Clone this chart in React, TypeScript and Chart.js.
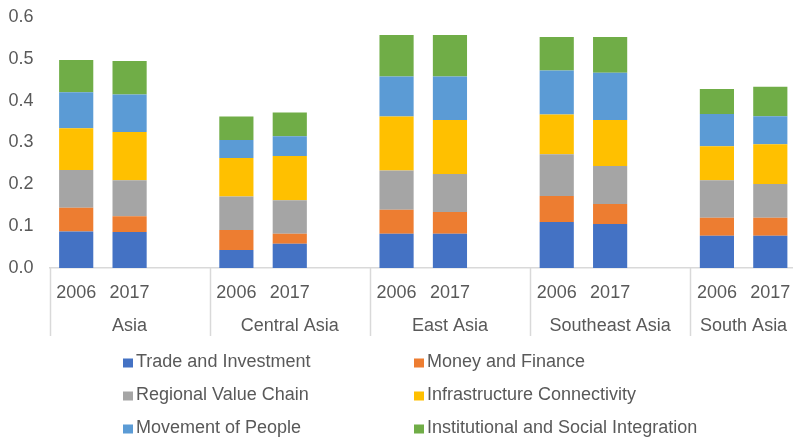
import React, { useEffect, useRef } from 'react';
import { Chart, registerables } from 'chart.js';

Chart.register(...registerables);

// ---- data ----
const regions = ['Asia', 'Central Asia', 'East Asia', 'Southeast Asia', 'South Asia'];
const years = ['2006', '2017'];
const seriesNames = [
  'Trade and Investment',
  'Money and Finance',
  'Regional Value Chain',
  'Infrastructure Connectivity',
  'Movement of People',
  'Institutional and Social Integration',
];
const seriesColors = ['#4472C4', '#ED7D31', '#A5A5A5', '#FFC000', '#5B9BD5', '#70AD47'];

// order: Asia 2006, Asia 2017, Central Asia 2006, 2017, East Asia..., Southeast Asia..., South Asia...
const trade = [0.087, 0.086, 0.043, 0.058, 0.082, 0.082, 0.110, 0.105, 0.077, 0.077];
const money = [0.057, 0.038, 0.048, 0.024, 0.057, 0.052, 0.062, 0.048, 0.043, 0.043];
const valueChain = [0.090, 0.086, 0.080, 0.080, 0.094, 0.091, 0.100, 0.091, 0.090, 0.081];
const infrastructure = [0.100, 0.115, 0.092, 0.106, 0.129, 0.129, 0.095, 0.110, 0.081, 0.095];
const people = [0.086, 0.090, 0.043, 0.047, 0.096, 0.104, 0.105, 0.113, 0.077, 0.067];
const institutional = [0.077, 0.080, 0.056, 0.057, 0.099, 0.099, 0.080, 0.085, 0.060, 0.070];
const seriesValues = [trade, money, valueChain, infrastructure, people, institutional];

const yMin = 0;
const yMax = 0.6;
const yStep = 0.1;

// ---- build slot layout (years per region, with a blank gap slot between regions) ----
const slotLabels: string[] = [];
const slotIndex: (number | null)[] = [];
regions.forEach((_, r) => {
  years.forEach((y, k) => {
    slotLabels.push(y);
    slotIndex.push(r * years.length + k);
  });
  if (r < regions.length - 1) {
    slotLabels.push('');
    slotIndex.push(null);
  }
});

const FONT = '"Liberation Sans", Arial, Helvetica, sans-serif';
const TEXT = '#595959';
const AXIS = '#D9D9D9';

const groupPlugin = {
  id: 'groupAxisAndLegend',
  afterDraw(chart: any) {
    const ctx = chart.ctx;
    const x = chart.scales.x;
    const area = chart.chartArea;
    const n = slotLabels.length;
    const w = (x.right - x.left) / n;
    const per = years.length + 1;
    ctx.save();
    // separators + region labels
    ctx.strokeStyle = AXIS;
    ctx.lineWidth = 1.5;
    ctx.fillStyle = TEXT;
    ctx.font = `18px ${FONT}`;
    ctx.textAlign = 'center';
    ctx.textBaseline = 'middle';
    regions.forEach((name, r) => {
      const start = r * per;
      const end = Math.min(start + per, n);
      const sx = Math.round(x.left + start * w) + 0.5;
      ctx.beginPath();
      ctx.moveTo(sx, area.bottom);
      ctx.lineTo(sx, area.bottom + 68);
      ctx.stroke();
      const cx = x.left + ((start + end) / 2) * w;
      ctx.fillText(name, cx, area.bottom + 58);
    });
    // legend (two columns)
    const colX = [123, 414];
    const rowY = [363, 396, 429];
    ctx.textAlign = 'left';
    seriesNames.forEach((name, i) => {
      const cx = colX[i % 2];
      const cy = rowY[Math.floor(i / 2)];
      ctx.fillStyle = seriesColors[i];
      ctx.fillRect(cx, cy - 4.5, 10, 9);
      ctx.fillStyle = TEXT;
      ctx.fillText(name, cx + 13, cy - 0.5);
    });
    ctx.restore();
  },
};

export default function App() {
  const ref = useRef<HTMLCanvasElement>(null);

  useEffect(() => {
    if (!ref.current) return;
    const datasets = seriesNames.map((name, i) => ({
      label: name,
      data: slotIndex.map((idx) => (idx === null ? null : seriesValues[i][idx])),
      backgroundColor: seriesColors[i],
      borderWidth: 0,
      barPercentage: 0.64,
      categoryPercentage: 1,
      stack: 'all',
    }));
    const chart = new Chart(ref.current, {
      type: 'bar',
      data: { labels: slotLabels, datasets },
      plugins: [groupPlugin],
      options: {
        responsive: false,
        animation: false,
        layout: { padding: { top: 17, left: 0, right: 0, bottom: 0 } },
        plugins: {
          legend: { display: false },
          tooltip: { enabled: false },
        },
        scales: {
          x: {
            stacked: true,
            grid: { display: false, drawTicks: false },
            border: { display: true, color: AXIS, width: 1.5 },
            ticks: {
              color: TEXT,
              font: { family: FONT, size: 18 },
              padding: 14,
              autoSkip: false,
              maxRotation: 0,
              minRotation: 0,
            },
            afterFit: (scale: any) => {
              scale.height = 172;
              scale.paddingLeft = 0;
              scale.paddingRight = 0;
            },
          },
          y: {
            stacked: true,
            min: yMin,
            max: yMax,
            grid: { display: false, drawTicks: false },
            border: { display: false },
            ticks: {
              stepSize: yStep,
              color: TEXT,
              font: { family: FONT, size: 18 },
              padding: 16,
              callback: (v: any) => Number(v).toFixed(1),
            },
            afterFit: (scale: any) => {
              scale.width = 49.5;
              scale.paddingTop = 0;
              scale.paddingBottom = 0;
            },
          },
        },
      },
    });
    return () => chart.destroy();
  }, []);

  return (
    <div
      style={{
        position: 'fixed',
        left: 0,
        top: 0,
        width: 793,
        height: 440,
        overflow: 'hidden',
        background: '#fff',
      }}
    >
      <canvas ref={ref} width={797} height={440} style={{ display: 'block' }} />
    </div>
  );
}
